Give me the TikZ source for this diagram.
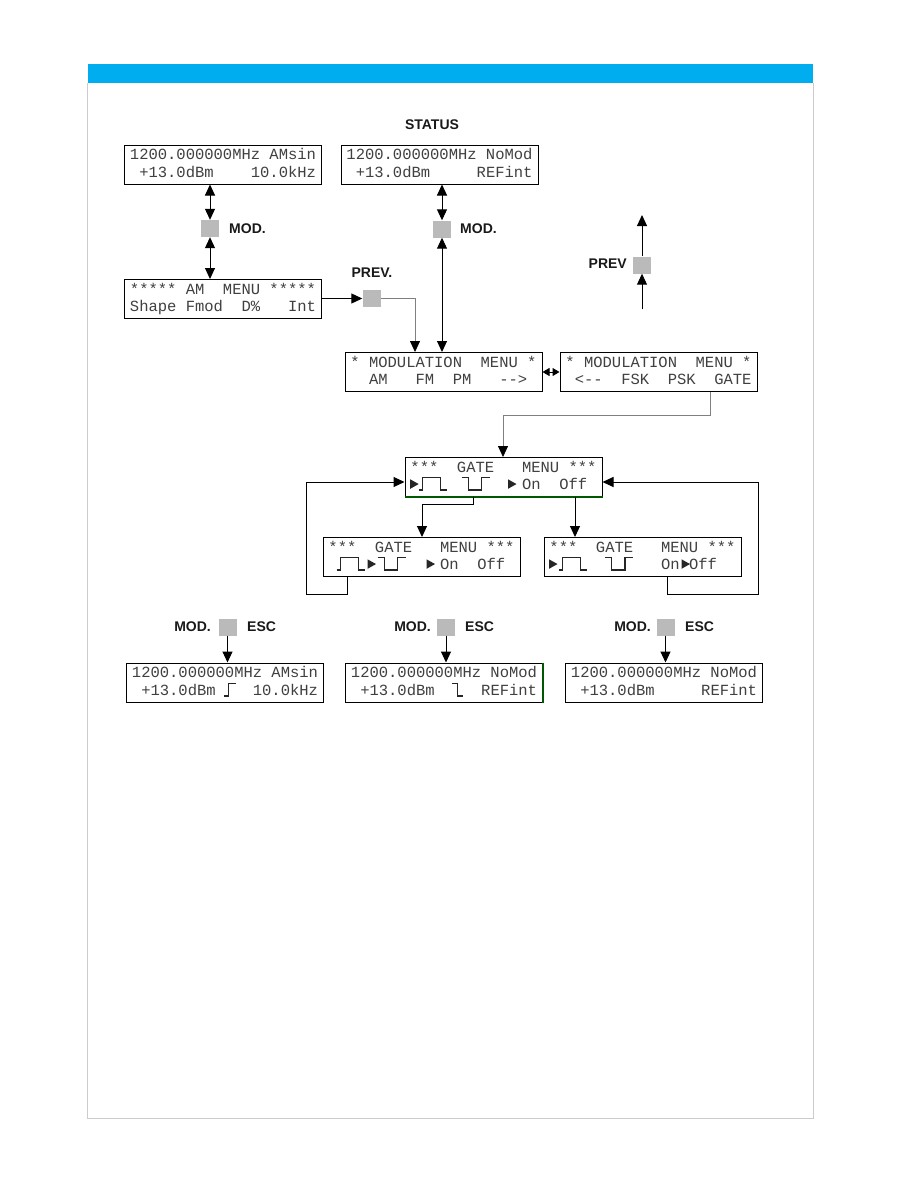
\documentclass[tikz,border=0pt]{standalone}
\usepackage{fontspec}
\usetikzlibrary{arrows.meta}
\newfontfamily\lcdfont{Liberation Mono}[Ligatures=TeXOff]
\newfontfamily\keyfont{Liberation Sans}
\definecolor{barblue}{RGB}{0,174,239}
\newcommand{\lcdtext}[2]{\mbox{#1}\\\mbox{#2}}
% little signs of the gate menus
\newcommand{\gpulse}[2]{\draw[glyph] (#1,#2) -- ++(3.4,0) -- ++(0,-12.5) -- ++(18.3,0) -- ++(0,12.5) -- ++(6.7,0);}
\newcommand{\gnotch}[2]{\draw[glyph] (#1,#2-12.5) -- ++(6.6,0) -- ++(0,12.5) -- ++(13.4,0) -- ++(0,-12.5) -- ++(8.3,0);}
\newcommand{\gptr}[2]{\fill[black!85] (#1,#2-1.2) -- ++(0,-9.5) -- ++(8.5,4.75) -- cycle;}
\tikzset{
  lcd/.style={draw=black, line width=1pt, minimum width=197pt, minimum height=39pt, inner sep=0pt, align=left,
    text height=32.3pt, text depth=6.7pt,
    font=\lcdfont\fontsize{15.5}{17.5}\selectfont\frenchspacing, text=black!75},
  key/.style={fill=black!27, minimum width=18pt, minimum height=17pt, inner sep=0pt},
  keylbl/.style={font=\keyfont\bfseries\fontsize{14}{16}\selectfont, inner sep=0pt, text=black!90},
  conn/.style={line width=1pt, -{Triangle[length=11pt,width=10pt]}},
  twoway/.style={line width=1pt, {Triangle[length=11pt,width=10pt]}-{Triangle[length=11pt,width=10pt]}},
  feed/.style={draw=black!50, line width=0.8pt, -{Triangle[length=11pt,width=10pt,color=black]}},
  glyph/.style={line width=1.1pt, black!85},
}

\begin{document}
\begin{tikzpicture}[x=1pt,y=-1pt]
\useasboundingbox (0,0) rectangle (918,1188);
% page
\fill[barblue] (88,64) rectangle (813,83);
\draw[black!20, line width=1pt] (87.5,83) -- (87.5,1118) -- (813,1118) -- (813,83);

% status and AM branch
\node[keylbl] (statuslbl) at (432,125) {STATUS};
\node[lcd] (aminfo) at (223,164.5) {\lcdtext{1200.000000MHz~AMsin}{~+13.0dBm~~~~10.0kHz}};
\node[lcd] (status) at (439.5,164.5) {\lcdtext{1200.000000MHz~NoMod}{~+13.0dBm~~~~~REFint}};
\node[key] (modkeya) at (210,228.5) {};
\node[keylbl, anchor=west] (modlbla) at (229,228.5) {MOD.};
\node[key] (modkeyb) at (442,229) {};
\node[keylbl, anchor=west] (modlblb) at (460,229) {MOD.};
\node[lcd] (ammenu) at (223,299) {\lcdtext{*****~AM~~MENU~*****}{Shape~Fmod~~D\%~~~Int}};
\node[key] (prevkeya) at (371.5,298.5) {};
\node[keylbl] (prevlbla) at (372,273) {PREV.};
\node[key] (prevkeyb) at (642,265) {};
\node[keylbl, anchor=east] (prevlblb) at (627,264) {PREV};
\coordinate (prevtop) at (642,215);
\coordinate (prevbot) at (642,309);

\draw[twoway] (aminfo.south -| modkeya) -- (modkeya.north);
\draw[twoway] (modkeya.south) -- (modkeya.south |- ammenu.north);
\draw[twoway] (status.south -| modkeyb) -- (modkeyb.north);
\draw[conn] (ammenu.east |- prevkeya) -- (prevkeya.west);
\draw[conn] (prevkeyb.north) -- (prevtop);
\draw[conn] (prevbot) -- (prevkeyb.south);

% modulation menus
\node[lcd] (modmenu) at (443.5,372) {\lcdtext{*~MODULATION~~MENU~*}{~~AM~~~FM~~PM~~~-->~}};
\node[lcd] (modmore) at (658.5,372) {\lcdtext{*~MODULATION~~MENU~*}{~<--~~FSK~~PSK~~GATE}};
\coordinate (feeda) at (415,298.5);
\draw[feed] (prevkeya.east) -- (feeda) -- (feeda |- modmenu.north);
\draw[twoway] (modkeyb.south) -- (modkeyb.south |- modmenu.north);
\draw[line width=1pt, {Triangle[length=7pt,width=8pt]}-{Triangle[length=7pt,width=8pt]}] (modmenu.east) -- (modmore.west);

% gate menus
\node[lcd] (gatemenu) at (503.5,477) {\lcdtext{***~~GATE~~~MENU~***}{~~~~~~~~~~~~On~~Off~}};
\node[lcd] (gateneg) at (421.5,557) {\lcdtext{***~~GATE~~~MENU~***}{~~~~~~~~~~~~On~~Off~}};
\node[lcd] (gateoff) at (642.5,557) {\lcdtext{***~~GATE~~~MENU~***}{~~~~~~~~~~~~On~Off~~}};
\draw[green!35!black, line width=1.1pt] (gatemenu.south west) -- (gatemenu.south east);
\gptr{410.2}{490} \gpulse{418.8}{490} \gnotch{461.7}{490} \gptr{508}{490}
\gpulse{336.7}{570} \gptr{367.5}{570} \gnotch{377.5}{570} \gptr{426.5}{570}
\gptr{549}{570} \gpulse{558.8}{570} \gnotch{605}{570} \gptr{681.5}{570}

\coordinate (gatea) at (710,415);
\coordinate (gateb) at (503,415);
\draw[feed] (gatea |- modmore.south) -- (gatea) -- (gateb) -- (gateb |- gatemenu.north);
\coordinate (splita) at (473,504);
\coordinate (splitb) at (422,504);
\coordinate (splitc) at (575,504);
\draw[conn] (splita |- gatemenu.south) -- (splita) -- (splitb) -- (splitb |- gateneg.north);
\draw[conn] (splitc |- gatemenu.south) -- (splitc |- gateoff.north);
\coordinate (backla) at (347,594);
\coordinate (backlb) at (306,482);
\draw[conn] (backla |- gateneg.south) -- (backla) -- (backlb |- backla) -- (backlb) -- (backlb -| gatemenu.west);
\coordinate (backra) at (667,594);
\coordinate (backrb) at (758,482);
\draw[conn] (backra |- gateoff.south) -- (backra) -- (backrb |- backra) -- (backrb) -- (backrb -| gatemenu.east);

% leaving with ESC
\node[key] (esckeya) at (227.5,627) {};
\node[keylbl, anchor=east] (modlblc) at (211,627) {MOD.};
\node[keylbl, anchor=west] (esclbla) at (247,627) {ESC};
\node[key] (esckeyb) at (446,627) {};
\node[keylbl, anchor=east] (modlbld) at (431,627) {MOD.};
\node[keylbl, anchor=west] (esclblb) at (465,627) {ESC};
\node[key] (esckeyc) at (665.5,627) {};
\node[keylbl, anchor=east] (modlble) at (651,627) {MOD.};
\node[keylbl, anchor=west] (esclblc) at (685,627) {ESC};
\node[lcd] (amgate) at (225,682.5) {\lcdtext{1200.000000MHz~AMsin}{~+13.0dBm~~~~10.0kHz}};
\node[lcd] (escneg) at (444,682.5) {\lcdtext{1200.000000MHz~NoMod}{~+13.0dBm~~~~~REFint}};
\node[lcd] (escoff) at (664,682.5) {\lcdtext{1200.000000MHz~NoMod}{~+13.0dBm~~~~~REFint}};
\draw[green!35!black, line width=1.1pt] (escneg.north east) -- (escneg.south east);
\draw[glyph] (224,696) -- ++(4.5,0) -- ++(0,-12.5) -- ++(7,0);
\draw[glyph] (452,683.5) -- ++(5.3,0) -- ++(0,12.5) -- ++(5.7,0);
\draw[conn] (esckeya.south) -- (esckeya.south |- amgate.north);
\draw[conn] (esckeyb.south) -- (esckeyb.south |- escneg.north);
\draw[conn] (esckeyc.south) -- (esckeyc.south |- escoff.north);
\end{tikzpicture}
\end{document}
